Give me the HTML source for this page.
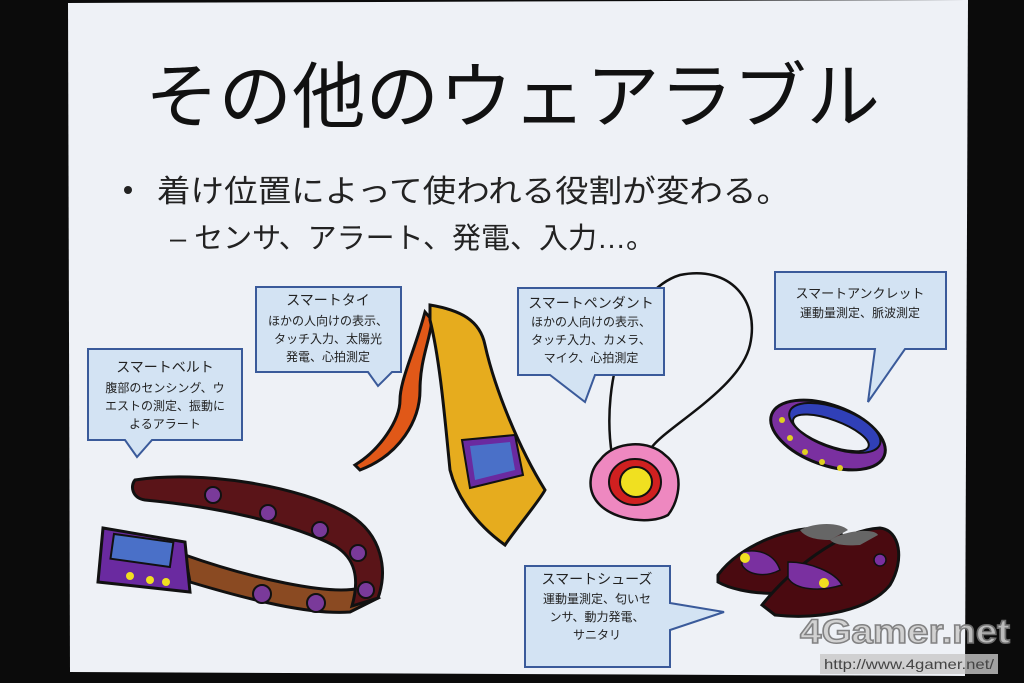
<!DOCTYPE html>
<html><head><meta charset="utf-8"><style>
html,body{margin:0;padding:0;background:#0a0a0a;}
svg{display:block}
text{font-family:"Liberation Sans","Noto Sans CJK JP",sans-serif;}
</style></head><body>
<svg width="1024" height="683" viewBox="0 0 1024 683" xmlns="http://www.w3.org/2000/svg">
<rect width="1024" height="683" fill="#0b0b0b"/>
<polygon points="68,3 968,0 965,676 70,672" fill="#eef1f6"/>
<text x="145" y="122" font-size="72" fill="#111" textLength="735" lengthAdjust="spacingAndGlyphs">その他のウェアラブル</text>
<circle cx="128" cy="190" r="4" fill="#222"/>
<text x="157" y="202" font-size="31" fill="#222" textLength="633" lengthAdjust="spacingAndGlyphs">着け位置によって使われる役割が変わる。</text>
<text x="170" y="248" font-size="29" fill="#222" textLength="485" lengthAdjust="spacingAndGlyphs">– センサ、アラート、発電、入力…。</text>

<!-- pendant cord (behind callout) -->
<path d="M612,455 C600,380 630,290 680,275 C730,265 760,300 750,345 C740,390 660,430 650,450" fill="none" stroke="#111" stroke-width="2.5"/>

<!-- callouts -->
<g fill="#d3e3f3" stroke="#3a5a9a" stroke-width="2">
<path d="M88,349 H242 V440 H152 L137,457 L125,440 H88 Z"/>
<path d="M256,287 H401 V372 H392 L378,386 L368,372 H256 Z"/>
<path d="M518,288 H664 V375 H595 L585,402 L550,375 H518 Z"/>
<path d="M775,272 H946 V349 H905 L868,402 L875,349 H775 Z"/>
<path d="M525,566 H670 V603 L724,612 L670,630 V667 H525 Z"/>
</g>
<g fill="#222" text-anchor="middle">
<text x="165" y="372" font-size="14">スマートベルト</text>
<text x="165" y="392" font-size="12">腹部のセンシング、ウ</text>
<text x="165" y="410" font-size="12">エストの測定、振動に</text>
<text x="165" y="428" font-size="12">よるアラート</text>
<text x="328" y="305" font-size="14">スマートタイ</text>
<text x="328" y="325" font-size="12">ほかの人向けの表示、</text>
<text x="328" y="343" font-size="12">タッチ入力、太陽光</text>
<text x="328" y="361" font-size="12">発電、心拍測定</text>
<text x="591" y="308" font-size="14">スマートペンダント</text>
<text x="591" y="326" font-size="12">ほかの人向けの表示、</text>
<text x="591" y="344" font-size="12">タッチ入力、カメラ、</text>
<text x="591" y="362" font-size="12">マイク、心拍測定</text>
<text x="860" y="298" font-size="13">スマートアンクレット</text>
<text x="860" y="317" font-size="12">運動量測定、脈波測定</text>
<text x="597" y="584" font-size="14">スマートシューズ</text>
<text x="597" y="603" font-size="12">運動量測定、匂いセ</text>
<text x="597" y="621" font-size="12">ンサ、動力発電、</text>
<text x="597" y="639" font-size="12">サニタリ</text>
</g>

<!-- belt -->
<g stroke="#111" stroke-width="3">
<path d="M185,555 L190,582 C250,600 310,615 350,612 L378,598 L360,588 C330,596 250,578 185,555Z" fill="#8a4a22"/>
<path d="M135,480 C200,470 300,485 350,515 C382,535 388,570 378,598 L352,606 C360,578 355,558 335,546 C290,522 210,506 145,500 C132,498 130,486 135,480Z" fill="#5a1418"/>
<path d="M103,528 L185,542 L190,592 L98,582 Z" fill="#6a2aa0"/>
<rect x="112" y="538" width="60" height="25" fill="#4a70c8" stroke-width="2" transform="rotate(8 142 550)"/>
</g>
<g fill="#7a3a9a" stroke="#111" stroke-width="2">
<circle cx="213" cy="495" r="8"/><circle cx="268" cy="513" r="8"/><circle cx="320" cy="530" r="8"/><circle cx="358" cy="553" r="8"/>
<circle cx="262" cy="594" r="9"/><circle cx="316" cy="603" r="9"/><circle cx="366" cy="590" r="8"/>
</g>
<g fill="#f0e020"><circle cx="130" cy="576" r="4"/><circle cx="150" cy="580" r="4"/><circle cx="166" cy="582" r="4"/></g>

<!-- tie -->
<path d="M425,312 C415,350 400,380 400,400 C400,420 380,450 355,465 L360,470 C400,455 420,420 420,390 C420,360 430,340 432,320 Z" fill="#e05818" stroke="#111" stroke-width="3"/>
<path d="M430,305 C460,310 480,320 485,345 C495,390 520,450 545,490 C540,500 515,530 505,545 C470,520 455,490 450,470 C445,420 440,360 430,320 Z" fill="#e6ac1e" stroke="#111" stroke-width="3"/>
<path d="M462,440 L515,435 L523,475 L470,488 Z" fill="#6a2aa0" stroke="#111" stroke-width="2"/>
<path d="M470,446 L510,442 L515,470 L475,480 Z" fill="#4a70c8"/>

<!-- pendant -->
<path d="M600,460 C615,440 650,440 665,455 C685,470 680,500 668,515 C650,525 615,520 600,505 C585,490 590,470 600,460Z" fill="#ee88c0" stroke="#111" stroke-width="2.5"/>
<ellipse cx="635" cy="482" rx="26" ry="23" fill="#d02020" stroke="#111" stroke-width="2"/>
<ellipse cx="636" cy="482" rx="16" ry="15" fill="#f0e020" stroke="#111" stroke-width="2"/>

<!-- anklet -->
<g transform="rotate(20 828 435)">
<ellipse cx="828" cy="435" rx="60" ry="30" fill="#7a30a0" stroke="#111" stroke-width="3"/>
<ellipse cx="832" cy="426" rx="48" ry="20" fill="#3040b8" stroke="#111" stroke-width="2"/>
<ellipse cx="830" cy="432" rx="40" ry="13" fill="#eef1f6" stroke="#111" stroke-width="2"/>
</g>
<g fill="#e0d020"><circle cx="782" cy="420" r="3"/><circle cx="790" cy="438" r="3"/><circle cx="805" cy="452" r="3"/><circle cx="822" cy="462" r="3"/><circle cx="840" cy="468" r="3"/></g>

<!-- shoes -->
<path d="M718,575 C740,545 790,525 830,528 C850,530 850,560 830,580 C800,600 740,595 718,582Z" fill="#4a0a10" stroke="#111" stroke-width="3"/>
<path d="M762,605 C790,570 840,530 880,528 C900,530 905,560 890,585 C870,610 820,620 775,615Z" fill="#4a0a10" stroke="#111" stroke-width="3"/>
<path d="M800,530 C815,522 840,522 848,530 L830,540 C815,540 805,537 800,530Z" fill="#666"/>
<path d="M830,540 C845,530 875,528 878,535 L860,545 C845,546 835,545 830,540Z" fill="#666"/>
<path d="M742,552 C760,548 775,555 780,570 C765,578 748,575 742,565Z" fill="#7a30a0" stroke="#111" stroke-width="1.5"/>
<path d="M788,562 C810,562 835,572 842,585 C820,592 795,590 788,578Z" fill="#7a30a0" stroke="#111" stroke-width="1.5"/>
<circle cx="745" cy="558" r="5" fill="#f0e020"/><circle cx="824" cy="583" r="5" fill="#f0e020"/>
<circle cx="880" cy="560" r="6" fill="#7a30a0" stroke="#111" stroke-width="1.5"/>

<!-- watermark -->
<text x="800" y="643" font-size="34" font-weight="bold" fill="#cfcfcf" stroke="#777" stroke-width="1.5" textLength="210" lengthAdjust="spacingAndGlyphs" opacity="0.9">4Gamer.net</text>
<rect x="820" y="654" width="178" height="20" fill="#c8c8c8" opacity="0.8"/>
<text x="824" y="669" font-size="14" fill="#444" textLength="170" lengthAdjust="spacingAndGlyphs">http://www.4gamer.net/</text>
</svg>
</body></html>
